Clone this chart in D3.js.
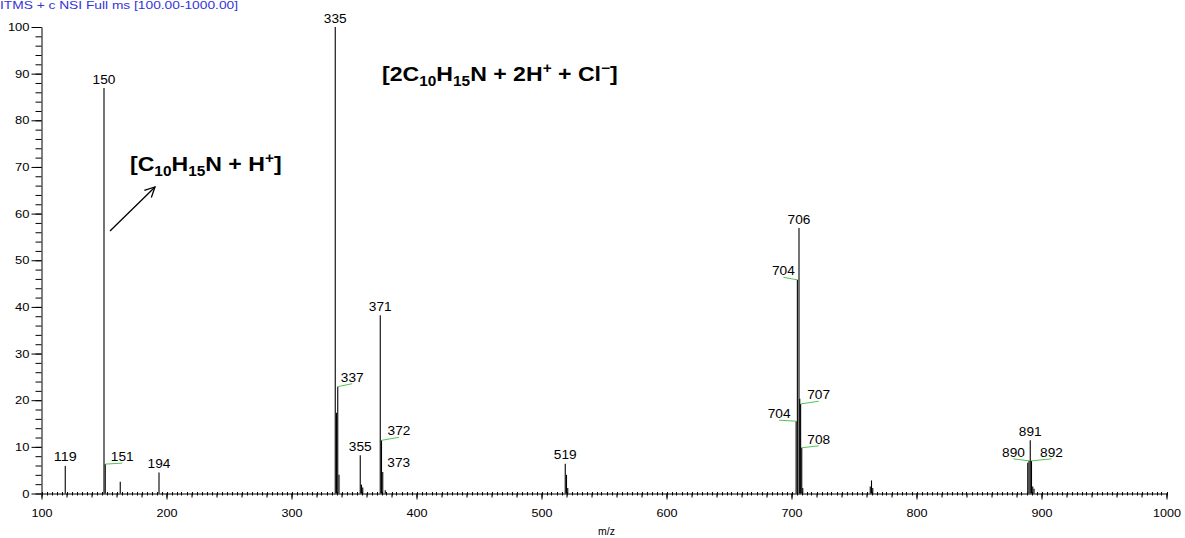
<!DOCTYPE html>
<html>
<head>
<meta charset="utf-8">
<script src="https://cdn.jsdelivr.net/npm/d3@7"></script>
<style>
  body { margin: 0; background: #fff; }
  svg { display: block; font-family: Arial, "Liberation Sans", sans-serif; }
</style>
</head>
<body>
<div id="chart"></div>
<script>
// spectrum peaks (m/z, relative abundance, printed label)
var peakMz    = [119, 150, 151, 163, 194, 335, 336, 337, 338, 355, 356, 357, 371, 372, 373, 375,
                 519, 520, 521, 703.7, 704.7, 706, 706.6, 707.3, 708.2, 709, 763, 764, 765,
                 889, 890, 891, 892, 893, 894];
var peakInt   = [5.9, 86.9, 6.3, 2.5, 4.5, 100, 17.3, 22.9, 4.0, 8.2, 1.9, 1.3, 38.2, 11.4, 4.6, 0.7,
                 6.4, 4.0, 1.2, 15.5, 45.8, 56.9, 20.3, 19.2, 9.8, 1.2, 1.5, 2.8, 1.2,
                 6.6, 7.0, 11.4, 7.0, 1.5, 1.0];
var peakLabel = ["119", "150", "151", "", "194", "335", "", "337", "", "355", "", "", "371", "372", "373", "",
                 "519", "", "", "704", "704", "706", "", "707", "708", "", "", "", "",
                 "", "890", "891", "892", "", ""];

var yTicks = [0, 10, 20, 30, 40, 50, 60, 70, 80, 90, 100];
var xTicks = [100, 200, 300, 400, 500, 600, 700, 800, 900, 1000];

var titleText = "ITMS + c NSI Full ms [100.00-1000.00]";
var xLabel = "m/z";

// label placement for peaks whose label is moved off the peak (dx, dy from peak top, leader line)
var moved = {
  "151":   [17, -3, true],
  "337":   [14.5, -5, true],
  "372":   [17.5, -5, true],
  "373":   [16, -5, false],
  "703.7": [-17, -3, true],
  "704.7": [-14, -4.5, true],
  "707.3": [18, -4.7, true],
  "708.2": [17, -4, true],
  "890":   [-15.5, -4, true],
  "892":   [20, -4, true]
};

var W = 1185, H = 538;
var svg = d3.select("#chart").append("svg")
  .attr("width", W)
  .attr("height", H);

var x = d3.scaleLinear().domain([100, 1000]).range([41.5, 1166.5]);
var y = d3.scaleLinear().domain([0, 100]).range([493.5, 27]);

// title
svg.append("text")
  .attr("x", 0)
  .attr("y", 9)
  .attr("font-size", "11px")
  .attr("fill", "#3434d8")
  .attr("textLength", 238)
  .attr("lengthAdjust", "spacingAndGlyphs")
  .text(titleText);

// Y axis
var yMinor = svg.append("g")
  .attr("transform", "translate(41.5,0)")
  .call(d3.axisLeft(y).tickValues(d3.range(0, 101, 2)).tickSize(6).tickFormat(""));
yMinor.select(".domain").remove();

var yAxis = svg.append("g")
  .attr("transform", "translate(41.5,0)")
  .call(d3.axisLeft(y).tickValues(yTicks).tickSize(10).tickSizeOuter(0).tickPadding(2));
yAxis.selectAll("text")
  .attr("font-size", "11.5px")
  .attr("font-family", null)
  .attr("textLength", function(d) { return String(d).length * 7.2; })
  .attr("lengthAdjust", "spacingAndGlyphs");

// X axis
var xMinor = svg.append("g").attr("class", "xminor");
xMinor.selectAll("line")
  .data(d3.range(100, 1001, 4))
  .enter()
  .append("line")
    .attr("x1", function(d) { return Math.round(x(d)) + 0.5; })
    .attr("x2", function(d) { return Math.round(x(d)) + 0.5; })
    .attr("y1", y(0) - 1.5)
    .attr("y2", y(0) + 2)
    .attr("stroke", "#000");

var xMid = svg.append("g")
  .attr("transform", "translate(0," + y(0) + ")")
  .call(d3.axisBottom(x).tickValues(d3.range(100, 1001, 20)).tickSize(4).tickFormat(""));
xMid.select(".domain").remove();

var xAxis = svg.append("g")
  .attr("transform", "translate(0," + y(0) + ")")
  .call(d3.axisBottom(x).tickValues(xTicks).tickSize(6).tickSizeOuter(0).tickPadding(9.5)
    .tickFormat(d3.format("d")));
xAxis.selectAll("text")
  .attr("font-size", "11.5px")
  .attr("font-family", null)
  .attr("textLength", function(d) { return String(d).length * 7.0; })
  .attr("lengthAdjust", "spacingAndGlyphs");

svg.append("text")
  .attr("x", x(552))
  .attr("y", 535)
  .attr("text-anchor", "middle")
  .attr("font-size", "10.5px")
  .text(xLabel);

// peaks
var peaks = peakMz.map(function(m, i) {
  return { mz: m, v: peakInt[i], label: peakLabel[i] };
});

svg.selectAll("line.peak")
  .data(peaks)
  .enter()
  .append("line")
    .attr("class", "peak")
    .attr("x1", function(d) { return x(d.mz); })
    .attr("x2", function(d) { return x(d.mz); })
    .attr("y1", y(0))
    .attr("y2", function(d) { return y(d.v); })
    .attr("stroke", "#000")
    .attr("stroke-width", 1.1);

var labelled = peaks.filter(function(d) { return d.label !== ""; });

// green leader lines
svg.selectAll("line.leader")
  .data(labelled.filter(function(d) { var m = moved[String(d.mz)]; return m && m[2]; }))
  .enter()
  .append("line")
    .attr("class", "leader")
    .attr("x1", function(d) { return x(d.mz); })
    .attr("y1", function(d) { return y(d.v); })
    .attr("x2", function(d) { return x(d.mz) + moved[String(d.mz)][0]; })
    .attr("y2", function(d) { return y(d.v) + moved[String(d.mz)][1] + 2; })
    .attr("stroke", "#55c455")
    .attr("stroke-width", 1);

svg.selectAll("text.plabel")
  .data(labelled)
  .enter()
  .append("text")
    .attr("class", "plabel")
    .attr("text-anchor", "middle")
    .attr("font-size", "12.5px")
    .attr("textLength", function(d) { return d.label.length * 7.6; })
    .attr("lengthAdjust", "spacingAndGlyphs")
    .attr("x", function(d) {
      var m = moved[String(d.mz)];
      return x(d.mz) + (m ? m[0] : 0);
    })
    .attr("y", function(d) {
      var m = moved[String(d.mz)];
      return y(d.v) + (m ? m[1] : -4.5);
    })
    .text(function(d) { return d.label; });

// ion annotations (slightly stretched horizontally like the original export)
function formula(xp, yp, parts) {
  var t = svg.append("g")
    .attr("transform", "translate(" + xp + "," + yp + ") scale(1.1,1)")
    .append("text")
    .attr("x", 0)
    .attr("y", 0)
    .attr("font-size", "21px")
    .attr("font-weight", "bold");
  var shift = 0;
  parts.forEach(function(p) {
    var dy = 0;
    if (p[1] === "sub") { dy = 5 - shift; shift = 5; }
    else if (p[1] === "sup") { dy = -8 - shift; shift = -8; }
    else { dy = -shift; shift = 0; }
    t.append("tspan")
      .attr("dy", dy)
      .attr("font-size", p[1] ? "14px" : "21px")
      .text(p[0]);
  });
}

formula(130, 171, [["[C"], ["10", "sub"], ["H"], ["15", "sub"], ["N + H"], ["+", "sup"], ["]"]]);
formula(382, 81, [["[2C"], ["10", "sub"], ["H"], ["15", "sub"], ["N + 2H"], ["+", "sup"], [" + Cl"], ["\u2212", "sup"], ["]"]]);

// arrow
svg.append("defs").append("marker")
  .attr("id", "head")
  .attr("viewBox", "0 0 12 12")
  .attr("refX", 11)
  .attr("refY", 6)
  .attr("markerWidth", 12)
  .attr("markerHeight", 12)
  .attr("markerUnits", "userSpaceOnUse")
  .attr("orient", "auto")
  .append("path")
    .attr("d", "M1,1 L11,6 L1,11")
    .attr("fill", "none")
    .attr("stroke", "#000")
    .attr("stroke-width", 1.3);

svg.append("line")
  .attr("x1", 110)
  .attr("y1", 231)
  .attr("x2", 155)
  .attr("y2", 187)
  .attr("stroke", "#000")
  .attr("stroke-width", 1.3)
  .attr("marker-end", "url(#head)");
</script>
</body>
</html>
